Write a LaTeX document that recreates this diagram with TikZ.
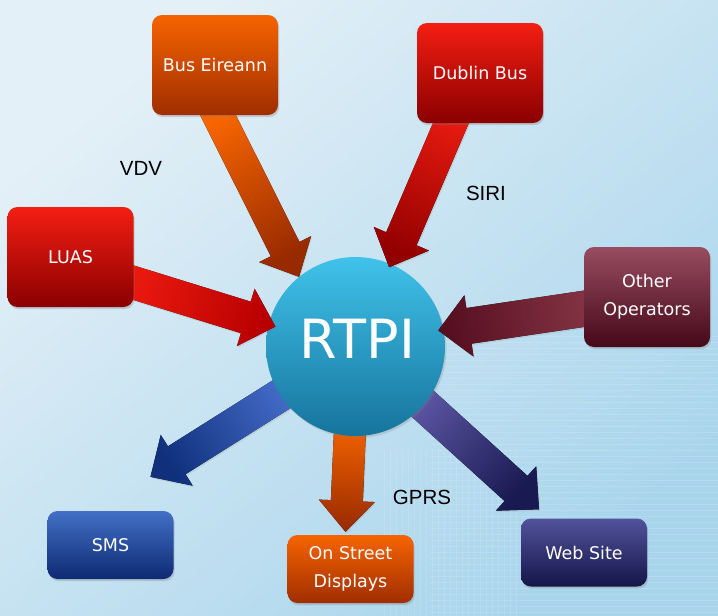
\documentclass[tikz,border=0pt]{standalone}
\usepackage{fontspec}
\setmainfont{DejaVu Sans}
\newfontfamily\lblfont{Liberation Sans}
\usetikzlibrary{calc,shadows}

\definecolor{bgA}{HTML}{E4F0F7}
\definecolor{bgB}{HTML}{A9D5EC}
\definecolor{orT}{HTML}{F66400}
\definecolor{orB}{HTML}{A02E00}
\definecolor{rdT}{HTML}{F41E12}
\definecolor{rdB}{HTML}{8A0000}
\definecolor{mrT}{HTML}{984C60}
\definecolor{mrB}{HTML}{46081A}
\definecolor{blT}{HTML}{4270C6}
\definecolor{blB}{HTML}{0E2A72}
\definecolor{nvT}{HTML}{52529C}
\definecolor{nvB}{HTML}{141548}
\definecolor{cyT}{HTML}{40C2EA}
\definecolor{cyB}{HTML}{16749C}
% arrow colours
\definecolor{aOrT}{HTML}{F86600}
\definecolor{aOrB}{HTML}{982A00}
\definecolor{aRdT}{HTML}{E61A10}
\definecolor{aRdB}{HTML}{920000}
\definecolor{aLuT}{HTML}{EC1A10}
\definecolor{aLuB}{HTML}{B80000}
\definecolor{aMrT}{HTML}{843444}
\definecolor{aMrB}{HTML}{560E20}
\definecolor{aBlT}{HTML}{446CC8}
\definecolor{aBlB}{HTML}{10307C}
\definecolor{aNvT}{HTML}{5C56A4}
\definecolor{aNvB}{HTML}{1A1A52}

\pgfdeclarelayer{bg}
\pgfdeclarelayer{backarrows}
\pgfdeclarelayer{hub}
\pgfdeclarelayer{inarrows}
\pgfsetlayers{bg,backarrows,hub,inarrows,main}

% block arrow from node anchor to node anchor
\newcommand\blockarrow[5]{%
  \coordinate (ba-t) at #1;
  \coordinate (ba-p) at #2;
  \coordinate (ba-h) at ($(ba-p)!31pt!(ba-t)$);
  \fill[#5] ($(ba-t)!#3!90:(ba-p)$) -- ($(ba-h)!#3!-90:(ba-t)$)
     -- ($(ba-h)!#4!-90:(ba-t)$) -- (ba-p) -- ($(ba-h)!#4!90:(ba-t)$)
     -- ($(ba-h)!#3!90:(ba-t)$) -- ($(ba-t)!#3!-90:(ba-p)$) -- cycle;
}

\begin{document}
\begin{tikzpicture}[x=1pt,y=-1pt,
  box/.style={rounded corners=10pt, minimum width=126pt, inner sep=0pt,
    text=white, align=center, font=\fontsize{17.5}{28}\selectfont,
    drop shadow={opacity=0.3, shadow xshift=1.2pt, shadow yshift=-2.2pt}},
  bigbox/.style={box, minimum height=100pt},
  smallbox/.style={box, minimum height=68pt},
  orangebox/.style={top color=orT, bottom color=orB},
  redbox/.style={top color=rdT, bottom color=rdB},
  maroonbox/.style={top color=mrT, bottom color=mrB},
  bluebox/.style={top color=blT, bottom color=blB},
  navybox/.style={top color=nvT, bottom color=nvB},
  lbl/.style={font=\lblfont\fontsize{20.5}{24}\selectfont, text=black, inner sep=0pt},
  arrowshadow/.style={drop shadow={opacity=0.18, shadow xshift=1pt, shadow yshift=-1.5pt}},
]
\useasboundingbox (0,0) rectangle (718,616);
\begin{pgfonlayer}{bg}
  \fill[top color=bgA, bottom color=bgB, shading angle=40] (0,0) rectangle (718,616);
  \foreach \yy in {336,342,...,616}
    \draw[white, opacity=0.14, line width=0.6pt] (430,\yy) -- (718,\yy);
  \foreach \xx in {384,390,...,520}
    \draw[white, opacity=0.12, line width=0.6pt] (\xx,450) -- (\xx,616);
\end{pgfonlayer}

% boxes
\node[bigbox, orangebox] (be) at (215,65) {Bus Eireann};
\node[bigbox, redbox] (db) at (480,73) {Dublin Bus};
\node[bigbox, redbox] (luas) at (70.5,257) {LUAS};
\node[bigbox, maroonbox] (oo) at (647,297) {Other\\Operators};
\node[smallbox, bluebox] (sms) at (110.5,545) {SMS};
\node[smallbox, orangebox] (osd) at (350.5,569) {On Street\\Displays};
\node[smallbox, navybox] (ws) at (584,552.5) {Web Site};

% hub
\begin{pgfonlayer}{hub}
\node[circle, minimum size=179pt, inner sep=0pt, top color=cyT, bottom color=cyB,
  drop shadow={opacity=0.25, shadow xshift=1.5pt, shadow yshift=-2pt}] (rtpi) at (355.5,346.5) {};
\node[text=white, font=\fontsize{54}{60}\selectfont, inner sep=0pt] (rtpitext) at (357.5,339) {RTPI};
\end{pgfonlayer}

% outgoing arrows (tails hidden under the hub)
\begin{pgfonlayer}{backarrows}
  \blockarrow{($(rtpi.center)!0.8!(rtpi.213)$)}{([xshift=40pt,yshift=34pt]sms.north)}{16.5pt}{30pt}
    {top color=aBlT, bottom color=aBlB, shading angle=-57.8, arrowshadow}
  \blockarrow{($(rtpi.center)!0.8!(rtpi.266)$)}{([xshift=-5pt,yshift=3pt]osd.north)}{16pt}{28pt}
    {top color=aOrT, bottom color=aOrB, shading angle=-2.4, arrowshadow}
  \blockarrow{($(rtpi.center)!0.8!(rtpi.-40)$)}{([xshift=-45pt,yshift=9pt]ws.north)}{17pt}{30pt}
    {top color=aNvT, bottom color=aNvB, shading angle=46.6, arrowshadow}
\end{pgfonlayer}

% incoming arrows (tails hidden under the boxes)
\begin{pgfonlayer}{inarrows}
\blockarrow{([xshift=-3pt,yshift=12pt]be.south)}{(rtpi.129)}{16pt}{29pt}
  {top color=aOrT, bottom color=aOrB, shading angle=27.4, arrowshadow}
\blockarrow{([xshift=-24pt,yshift=12pt]db.south)}{($(rtpi.center)!0.96!(rtpi.67)$)}{16.5pt}{30pt}
  {top color=aRdT, bottom color=aRdB, shading angle=-22.6, arrowshadow}
\blockarrow{([xshift=-12pt,yshift=-22pt]luas.east)}{($(rtpi.center)!0.92!(rtpi.166)$)}{16.5pt}{30pt}
  {top color=aLuT, bottom color=aLuB, shading angle=72.3, arrowshadow}
\blockarrow{([xshift=12pt,yshift=-10pt]oo.west)}{($(rtpi.center)!0.94!(rtpi.11)$)}{18pt}{31pt}
  {top color=aMrT, bottom color=aMrB, shading angle=-80.1, arrowshadow}
\end{pgfonlayer}

% protocol labels
\node[lbl] (vdv) at (141,168) {VDV};
\node[lbl] (siri) at (486,193) {SIRI};
\node[lbl] (gprs) at (422,497) {GPRS};
\end{tikzpicture}
\end{document}
